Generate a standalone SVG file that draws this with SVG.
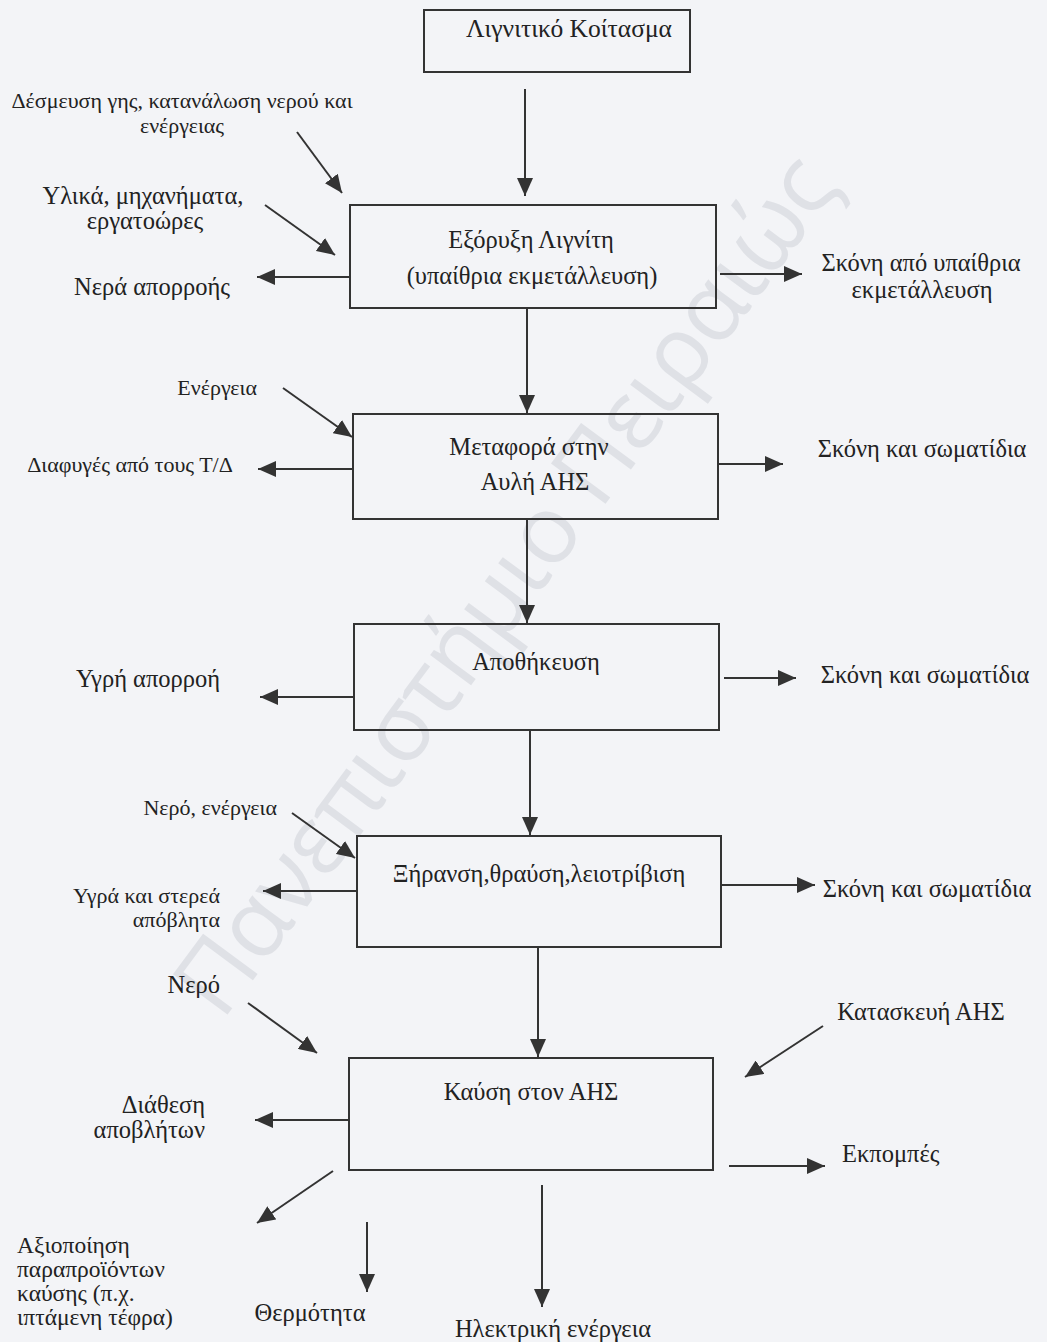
<svg xmlns="http://www.w3.org/2000/svg" width="1047" height="1342" viewBox="0 0 1047 1342">
<style>
.bg{fill:#f3f4f7}
.box{fill:none;stroke:#333;stroke-width:2}
.t{font-family:"Liberation Serif","Times New Roman",serif;font-size:24.5px;fill:#222}
.s{font-size:22px}
.h{font-size:25.5px}
.b{font-size:23.5px}
.m{text-anchor:middle}
.e{text-anchor:end}
.c{stroke:#333;stroke-width:2;fill:none;marker-end:url(#ah)}
.wm{font-family:"Open Sans","DejaVu Sans",sans-serif;font-size:95px;fill:#dfe1e6}
</style>
<defs>
<marker id="ah" markerUnits="userSpaceOnUse" markerWidth="18" markerHeight="16" refX="18" refY="8" orient="auto">
<path d="M0,0 L18,8 L0,16 z" fill="#333"/>
</marker>
</defs>
<rect class="bg" x="0" y="0" width="1047" height="1342"/>
<text class="wm" transform="translate(222,1022) rotate(-53.5)" textLength="1040">Πανεπιστήμιο Πειραιώς</text>

<g id="n1"><rect class="box" x="424" y="10" width="266" height="62"/><text class="t h" x="466" y="37">Λιγνιτικό Κοίτασμα</text></g>
<g id="n2"><rect class="box" x="350" y="205" width="366" height="103"/><text class="t m" x="531" y="248">Εξόρυξη Λιγνίτη</text><text class="t m" x="532" y="284">(υπαίθρια εκμετάλλευση)</text></g>
<g id="n3"><rect class="box" x="353" y="414" width="365" height="105"/><text class="t m" x="529" y="455">Μεταφορά στην</text><text class="t m" x="535" y="490">Αυλή ΑΗΣ</text></g>
<g id="n4"><rect class="box" x="354" y="624" width="365" height="106"/><text class="t m" x="536" y="670">Αποθήκευση</text></g>
<g id="n5"><rect class="box" x="357" y="836" width="364" height="111"/><text class="t m" x="539" y="882">Ξήρανση,θραύση,λειοτρίβιση</text></g>
<g id="n6"><rect class="box" x="349" y="1058" width="364" height="112"/><text class="t m" x="531" y="1100">Καύση στον ΑΗΣ</text></g>

<g id="labels">
<text class="t s m" x="182" y="108">Δέσμευση γης, κατανάλωση νερού και</text>
<text class="t s m" x="182" y="133">ενέργειας</text>
<text class="t m" x="143" y="204">Υλικά, μηχανήματα,</text>
<text class="t m" x="145" y="229">εργατοώρες</text>
<text class="t m" x="152" y="295">Νερά απορροής</text>
<text class="t m" x="921" y="271">Σκόνη από υπαίθρια</text>
<text class="t m" x="922" y="298">εκμετάλλευση</text>
<text class="t s e" x="257" y="395">Ενέργεια</text>
<text class="t s m" x="130" y="472">Διαφυγές από τους Τ/Δ</text>
<text class="t m" x="922" y="457">Σκόνη και σωματίδια</text>
<text class="t m" x="148" y="687">Υγρή απορροή</text>
<text class="t m" x="925" y="683">Σκόνη και σωματίδια</text>
<text class="t s e" x="277" y="815">Νερό, ενέργεια</text>
<text class="t s e" x="220" y="903">Υγρά και στερεά</text>
<text class="t s e" x="220" y="927">απόβλητα</text>
<text class="t m" x="927" y="897">Σκόνη και σωματίδια</text>
<text class="t e" x="220" y="993">Νερό</text>
<text class="t m" x="921" y="1020">Κατασκευή ΑΗΣ</text>
<text class="t e" x="205" y="1113">Διάθεση</text>
<text class="t e" x="205" y="1138">αποβλήτων</text>
<text class="t" x="842" y="1162">Εκπομπές</text>
<text class="t b" x="17" y="1253">Αξιοποίηση</text>
<text class="t b" x="17" y="1277">παραπροϊόντων</text>
<text class="t b" x="17" y="1301">καύσης (π.χ.</text>
<text class="t b" x="17" y="1325">ιπτάμενη τέφρα)</text>
<text class="t m" x="310" y="1321">Θερμότητα</text>
<text class="t m" x="553" y="1337">Ηλεκτρική ενέργεια</text>
</g>

<g id="connectors">
<line class="c" x1="525" y1="89" x2="525" y2="196"/>
<line class="c" x1="527" y1="308" x2="527" y2="413"/>
<line class="c" x1="527" y1="519" x2="527" y2="623"/>
<line class="c" x1="530" y1="730" x2="530" y2="835"/>
<line class="c" x1="538" y1="947" x2="538" y2="1057"/>
<line class="c" x1="542" y1="1185" x2="542" y2="1307"/>
<line class="c" x1="367" y1="1222" x2="367" y2="1292"/>
<line class="c" x1="333" y1="1171" x2="257" y2="1223"/>
<line class="c" x1="350" y1="277" x2="257" y2="277"/>
<line class="c" x1="353" y1="469" x2="258" y2="469"/>
<line class="c" x1="354" y1="697" x2="260" y2="697"/>
<line class="c" x1="357" y1="891" x2="263" y2="891"/>
<line class="c" x1="349" y1="1120" x2="255" y2="1120"/>
<line class="c" x1="720" y1="274" x2="802" y2="274"/>
<line class="c" x1="718" y1="464" x2="783" y2="464"/>
<line class="c" x1="724" y1="678" x2="796" y2="678"/>
<line class="c" x1="722" y1="885" x2="815" y2="885"/>
<line class="c" x1="729" y1="1166" x2="825" y2="1166"/>
<line class="c" x1="297" y1="132" x2="342" y2="193"/>
<line class="c" x1="265" y1="205" x2="335" y2="255"/>
<line class="c" x1="283" y1="388" x2="352" y2="437"/>
<line class="c" x1="292" y1="813" x2="355" y2="858"/>
<line class="c" x1="248" y1="1003" x2="317" y2="1053"/>
<line class="c" x1="823" y1="1026" x2="745" y2="1077"/>
</g>
</svg>
